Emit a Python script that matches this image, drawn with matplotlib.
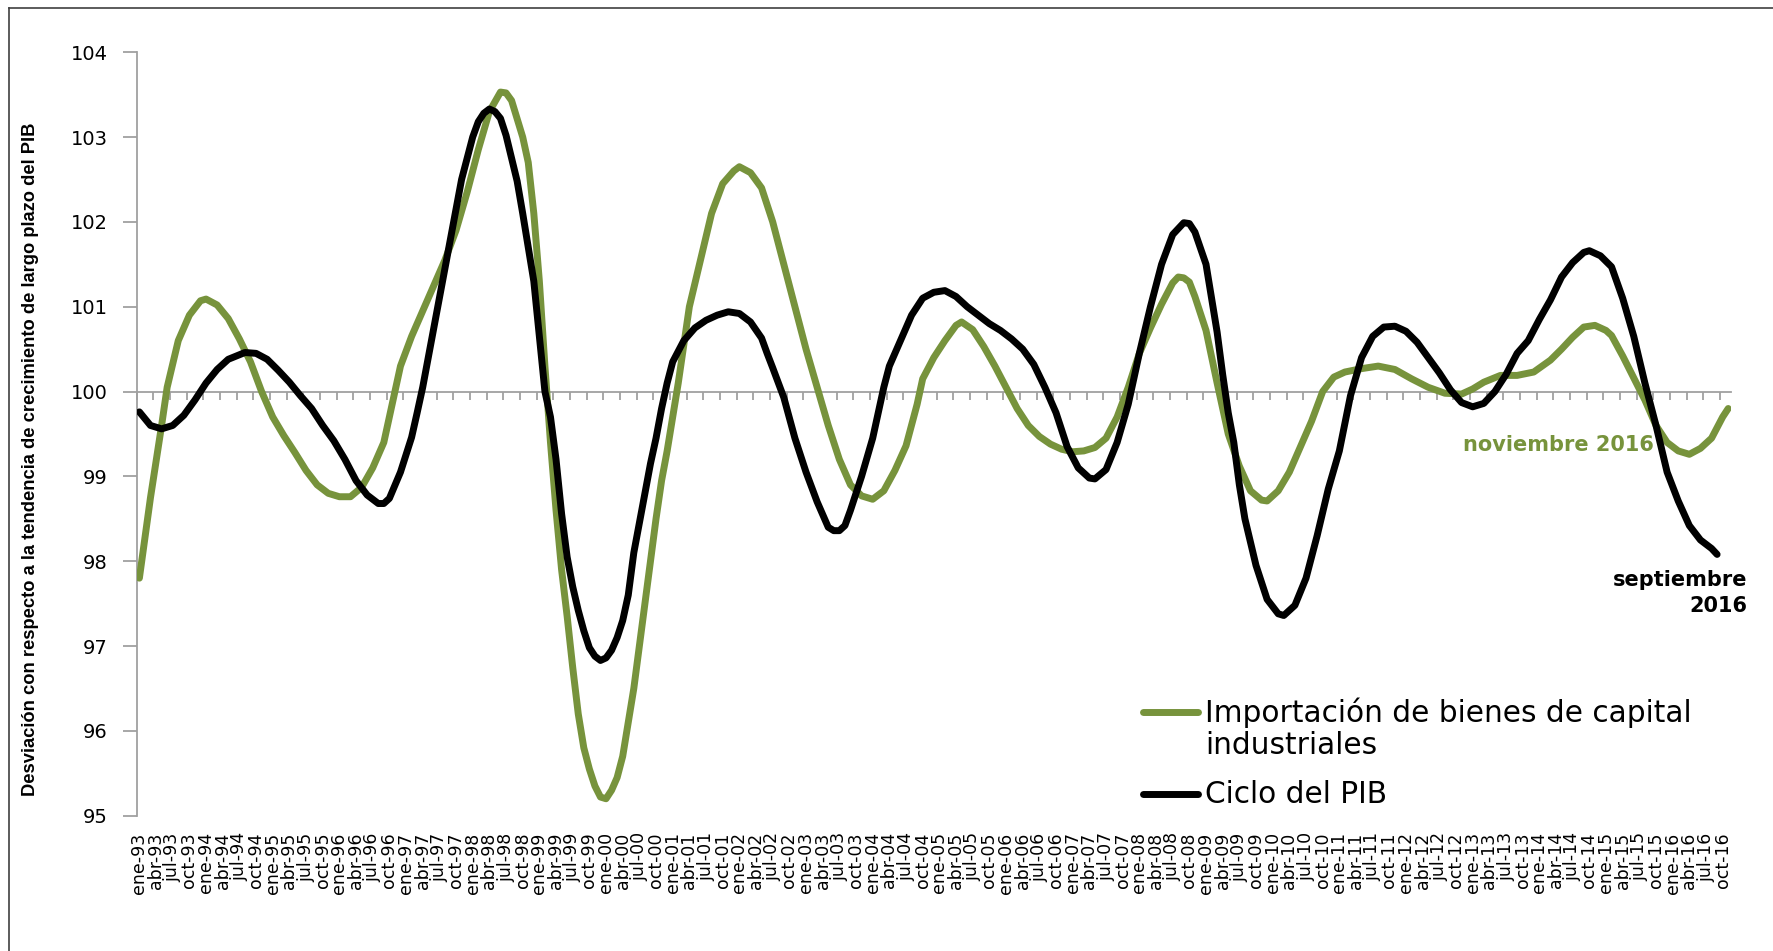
import numpy as np
import pandas as pd
import matplotlib
matplotlib.use('Agg')
import matplotlib.pyplot as plt
from matplotlib.lines import Line2D
from matplotlib import font_manager

# importacion de bienes de capital industriales (hasta nov-2016)
imp_fechas = ['1993-01', '1993-03', '1993-05', '1993-06', '1993-08', '1993-10', '1993-12',
              '1994-01', '1994-03', '1994-05', '1994-07', '1994-09', '1994-11',
              '1995-01', '1995-03', '1995-05', '1995-07', '1995-09', '1995-11',
              '1996-01', '1996-03', '1996-05', '1996-07', '1996-09', '1996-10', '1996-12',
              '1997-02', '1997-04', '1997-06', '1997-08', '1997-10', '1997-12',
              '1998-02', '1998-04', '1998-06', '1998-07', '1998-08', '1998-10', '1998-11', '1998-12',
              '1999-01', '1999-02', '1999-03', '1999-04', '1999-05', '1999-06', '1999-07', '1999-08',
              '1999-09', '1999-10', '1999-11', '1999-12',
              '2000-01', '2000-02', '2000-03', '2000-04', '2000-05', '2000-06', '2000-07', '2000-08',
              '2000-09', '2000-10', '2000-11', '2000-12',
              '2001-02', '2001-04', '2001-06', '2001-08', '2001-10', '2001-12',
              '2002-01', '2002-03', '2002-05', '2002-07', '2002-09', '2002-11',
              '2003-01', '2003-03', '2003-05', '2003-07', '2003-09', '2003-11',
              '2004-01', '2004-03', '2004-05', '2004-07', '2004-09', '2004-10', '2004-12',
              '2005-02', '2005-04', '2005-05', '2005-07', '2005-09', '2005-11',
              '2006-01', '2006-03', '2006-05', '2006-07', '2006-09', '2006-11',
              '2007-01', '2007-03', '2007-05', '2007-07', '2007-09', '2007-11',
              '2008-01', '2008-03', '2008-05', '2008-07', '2008-08', '2008-09', '2008-10', '2008-11',
              '2009-01', '2009-03', '2009-05', '2009-07', '2009-09', '2009-11', '2009-12',
              '2010-02', '2010-04', '2010-06', '2010-08', '2010-10', '2010-12',
              '2011-02', '2011-05', '2011-08', '2011-11',
              '2012-02', '2012-05', '2012-08', '2012-11',
              '2013-01', '2013-03', '2013-06', '2013-09', '2013-12',
              '2014-03', '2014-05', '2014-07', '2014-09', '2014-11',
              '2015-01', '2015-02', '2015-04', '2015-06', '2015-08', '2015-10', '2015-12',
              '2016-02', '2016-04', '2016-06', '2016-08', '2016-10', '2016-11']
imp_valores = [97.8, 98.75, 99.6, 100.05, 100.6, 100.9, 101.07,
               101.09, 101.02, 100.86, 100.62, 100.35, 100.0,
               99.7, 99.48, 99.28, 99.07, 98.9, 98.8,
               98.76, 98.76, 98.87, 99.1, 99.4, 99.7, 100.3,
               100.65, 100.95, 101.25, 101.55, 101.9, 102.35,
               102.85, 103.3, 103.53, 103.52, 103.43, 103.0, 102.7, 102.1,
               101.3, 100.3, 99.4, 98.6, 97.9, 97.35, 96.75, 96.2,
               95.8, 95.55, 95.35, 95.22,
               95.2, 95.3, 95.45, 95.7, 96.1, 96.5, 97.0, 97.5,
               98.0, 98.5, 98.95, 99.3,
               100.1, 101.0, 101.55, 102.1, 102.45, 102.6,
               102.65, 102.58, 102.4, 102.0, 101.5, 101.0,
               100.5, 100.05, 99.6, 99.2, 98.9, 98.77,
               98.73, 98.83, 99.07, 99.36, 99.85, 100.15, 100.4,
               100.6, 100.78, 100.82, 100.73, 100.53, 100.3,
               100.05, 99.8, 99.6, 99.47, 99.38, 99.32,
               99.29, 99.3, 99.34, 99.45, 99.7, 100.05,
               100.45, 100.75, 101.03, 101.28, 101.35, 101.34, 101.29, 101.12,
               100.72, 100.1, 99.5, 99.12, 98.83, 98.72, 98.71,
               98.83, 99.05, 99.35, 99.65, 100.0, 100.17,
               100.23, 100.27, 100.3, 100.26,
               100.15, 100.05, 99.98, 99.97,
               100.03, 100.11, 100.19, 100.19, 100.23,
               100.37, 100.5, 100.64, 100.76, 100.78,
               100.72, 100.66, 100.42, 100.16, 99.9, 99.6, 99.4,
               99.3, 99.26, 99.33, 99.45, 99.7, 99.8]

# ciclo del PIB (hasta sep-2016)
pib_fechas = ['1993-01', '1993-03', '1993-05', '1993-07', '1993-09', '1993-11',
              '1994-01', '1994-03', '1994-05', '1994-08', '1994-10', '1994-12',
              '1995-02', '1995-04', '1995-06', '1995-08', '1995-10', '1995-12',
              '1996-02', '1996-04', '1996-06', '1996-08', '1996-09', '1996-10', '1996-12',
              '1997-02', '1997-03', '1997-04', '1997-05', '1997-06', '1997-07', '1997-08',
              '1997-09', '1997-10', '1997-11', '1997-12',
              '1998-01', '1998-02', '1998-03', '1998-04', '1998-05', '1998-06', '1998-07',
              '1998-08', '1998-09', '1998-10', '1998-11', '1998-12',
              '1999-01', '1999-02', '1999-03', '1999-04', '1999-05', '1999-06', '1999-07',
              '1999-08', '1999-09', '1999-10', '1999-11', '1999-12',
              '2000-01', '2000-02', '2000-03', '2000-04', '2000-05', '2000-06', '2000-07',
              '2000-08', '2000-09', '2000-10', '2000-11', '2000-12',
              '2001-01', '2001-03', '2001-05', '2001-07', '2001-09', '2001-11',
              '2002-01', '2002-03', '2002-05', '2002-06', '2002-07', '2002-09', '2002-11',
              '2003-01', '2003-03', '2003-05', '2003-06', '2003-07', '2003-08', '2003-09', '2003-11',
              '2004-01', '2004-03', '2004-04', '2004-06', '2004-08', '2004-10', '2004-12',
              '2005-02', '2005-04', '2005-06', '2005-08', '2005-10', '2005-12',
              '2006-02', '2006-04', '2006-06', '2006-08', '2006-10', '2006-12',
              '2007-02', '2007-04', '2007-05', '2007-07', '2007-09', '2007-11',
              '2008-01', '2008-03', '2008-05', '2008-07', '2008-09', '2008-10', '2008-11',
              '2009-01', '2009-02', '2009-03', '2009-04', '2009-05', '2009-06', '2009-07',
              '2009-08', '2009-10', '2009-12',
              '2010-02', '2010-03', '2010-05', '2010-07', '2010-09', '2010-11',
              '2011-01', '2011-03', '2011-05', '2011-07', '2011-09', '2011-11',
              '2012-01', '2012-03', '2012-05', '2012-07', '2012-09', '2012-11',
              '2013-01', '2013-03', '2013-05', '2013-07', '2013-09', '2013-11',
              '2014-01', '2014-03', '2014-05', '2014-07', '2014-09', '2014-10', '2014-12',
              '2015-02', '2015-04', '2015-06', '2015-08', '2015-10', '2015-12',
              '2016-02', '2016-04', '2016-06', '2016-08', '2016-09']
pib_valores = [99.76, 99.6, 99.56, 99.6, 99.72, 99.9,
               100.1, 100.26, 100.38, 100.46, 100.45, 100.38,
               100.25, 100.11, 99.95, 99.8, 99.6, 99.42,
               99.2, 98.95, 98.78, 98.68, 98.68, 98.74, 99.05,
               99.46, 99.75, 100.05, 100.4, 100.75, 101.1, 101.45,
               101.8, 102.15, 102.5, 102.75,
               103.0, 103.18, 103.28, 103.33, 103.3, 103.22, 103.02,
               102.75, 102.48, 102.1, 101.7, 101.3,
               100.65, 100.0, 99.7, 99.2, 98.56, 98.05, 97.7,
               97.42, 97.18, 96.98, 96.88, 96.83,
               96.86, 96.95, 97.1, 97.3, 97.6, 98.1, 98.45,
               98.8, 99.15, 99.45, 99.8, 100.1,
               100.35, 100.6, 100.75, 100.84, 100.9, 100.94,
               100.92, 100.82, 100.63, 100.45, 100.28, 99.93, 99.45,
               99.05, 98.7, 98.4, 98.36, 98.36, 98.42, 98.6, 99.0,
               99.45, 100.05, 100.3, 100.6, 100.9, 101.1, 101.17,
               101.19, 101.12, 101.0, 100.9, 100.8, 100.72,
               100.62, 100.5, 100.32, 100.05, 99.75, 99.35,
               99.1, 98.98, 98.97, 99.08, 99.4, 99.85,
               100.45, 101.0, 101.5, 101.85, 101.99, 101.98, 101.88,
               101.5, 101.1, 100.7, 100.2, 99.75, 99.4, 98.9,
               98.5, 97.95, 97.55,
               97.38, 97.36, 97.48, 97.8, 98.3, 98.85,
               99.3, 99.95, 100.4, 100.65, 100.76, 100.77,
               100.71, 100.58, 100.4, 100.22, 100.02, 99.87,
               99.82, 99.86, 100.0, 100.2, 100.45, 100.6,
               100.85, 101.08, 101.35, 101.52, 101.64, 101.66, 101.6,
               101.47, 101.1, 100.65, 100.1, 99.6, 99.05,
               98.71, 98.42, 98.25, 98.15, 98.08]

# etiquetas trimestrales del eje de categorias (ene-93 ... oct-16)
meses_etiqueta = ['ene', 'abr', 'jul', 'oct']
anios = list(range(1993, 2017))
etiquetas = [m + '-' + str(a)[2:] for a in anios for m in meses_etiqueta]

leyenda_imp = 'Importación de bienes de capital'
leyenda_imp2 = 'industriales'
leyenda_pib = 'Ciclo del PIB'
titulo_y = 'Desviación con respecto a la tendencia de crecimiento de largo plazo del PIB'

verde = '#77933C'
gris = '#A0A0A0'
W, H = 1773, 951


# mes (categoria) -> posicion en el eje, centrada en su celda
def a_posicion(fechas):
    p = pd.PeriodIndex(fechas, freq='M')
    return np.asarray((p.year - 1993) * 12 + (p.month - 1)) + 0.5


disponibles = {f.name for f in font_manager.fontManager.ttflist}
angosta = 'Liberation Sans Narrow' in disponibles

fig = plt.figure(figsize=(W / 100, H / 100), dpi=100)
ax = fig.add_axes([136.6 / W, 1 - 815.7 / H, (1731 - 136.6) / W, (815.7 - 52.2) / H])

ax.plot(a_posicion(imp_fechas), imp_valores, color=verde, lw=5,
        solid_capstyle='round', solid_joinstyle='round', zorder=3)
ax.plot(a_posicion(pib_fechas), pib_valores, color='black', lw=5,
        solid_capstyle='round', solid_joinstyle='round', zorder=4)

n_cat = len(etiquetas) * 3 - 1   # ene-93 .. nov-16
ax.set_xlim(0, n_cat)
ax.set_ylim(95, 104)
ax.set_yticks(range(95, 105))

for s in ['top', 'right']:
    ax.spines[s].set_visible(False)
ax.spines['left'].set_color(gris)
ax.spines['left'].set_linewidth(1.3)
# el eje de categorias cruza en 100
ax.spines['bottom'].set_position(('data', 100))
ax.spines['bottom'].set_color(gris)
ax.spines['bottom'].set_linewidth(1.3)
ax.set_xticks(np.arange(0, n_cat, 3))
ax.tick_params(axis='x', direction='out', length=6, width=1.3, color=gris,
               labelbottom=False)
ax.tick_params(axis='y', direction='out', length=10, width=1.3, color=gris,
               labelsize=14, pad=11)

# etiquetas abajo del todo, como en excel
sec = ax.secondary_xaxis(0)
sec.set_xticks(np.arange(0, n_cat, 3) + 0.5, etiquetas)
sec.tick_params(length=0, pad=12, labelsize=12.5, labelrotation=90)
sec.spines['bottom'].set_visible(False)

fig.text(30.5 / W, 1 - 459 / H, titulo_y, rotation=90, ha='center', va='center',
         fontweight='bold', fontsize=14 if angosta else 13.2,
         family='Liberation Sans Narrow' if angosta else 'Liberation Sans')

ax.text(273.1, 99.30, 'noviembre 2016', color=verde, fontweight='bold',
        fontsize=15, ha='right', va='baseline')
ax.text(290, 97.71, 'septiembre', color='black', fontweight='bold',
        fontsize=15, ha='right', va='baseline')
ax.text(290, 97.40, '2016', color='black', fontweight='bold',
        fontsize=15, ha='right', va='baseline')

# leyenda
fig.add_artist(Line2D([1143 / W, 1198 / W], [1 - 711.7 / H] * 2, color=verde,
                      lw=5, solid_capstyle='round', transform=fig.transFigure))
fig.add_artist(Line2D([1143 / W, 1198 / W], [1 - 794.3 / H] * 2, color='black',
                      lw=5, solid_capstyle='round', transform=fig.transFigure))
fig.text(1205 / W, 1 - 722.3 / H, leyenda_imp, fontsize=21.3, va='baseline')
fig.text(1205 / W, 1 - 754 / H, leyenda_imp2, fontsize=21.3, va='baseline')
fig.text(1205 / W, 1 - 803.3 / H, leyenda_pib, fontsize=21.3, va='baseline')

# marco del grafico
fig.add_artist(Line2D([9 / W, 1], [1 - 8 / H] * 2, color='#404040', lw=1.2,
                      transform=fig.transFigure))
fig.add_artist(Line2D([9 / W] * 2, [0, 1 - 8 / H], color='#404040', lw=1.2,
                      transform=fig.transFigure))

fig.savefig('out.png', dpi=100)
